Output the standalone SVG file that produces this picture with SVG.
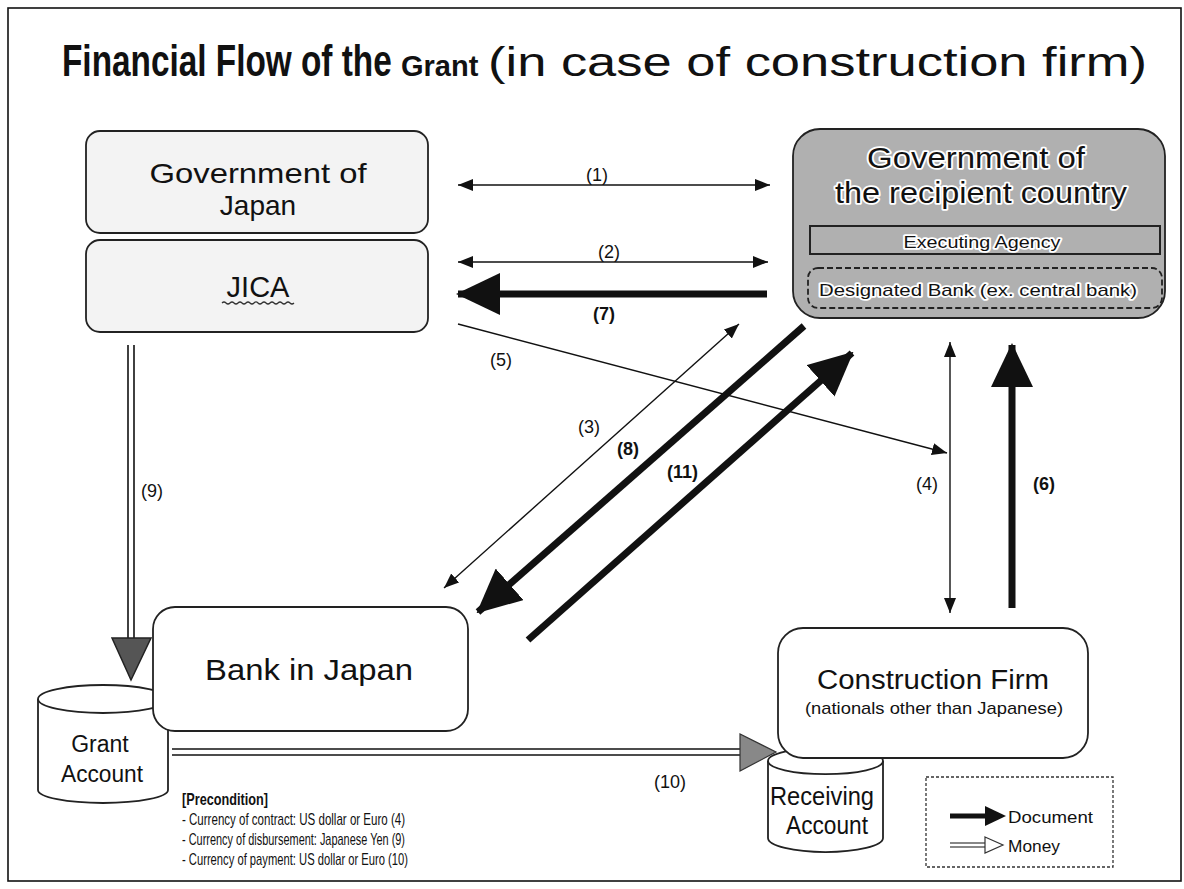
<svg xmlns="http://www.w3.org/2000/svg" width="1184" height="889" viewBox="0 0 1184 889">
<style>
  .sans { font-family: "Liberation Sans", Arial, sans-serif; fill: #111; }
  .box { stroke: #222; stroke-width: 1.8; }
  .thin { stroke: #111; stroke-width: 1.4; fill: none; }
  .thick { stroke: #111; stroke-width: 7; fill: none; }
  .lbl { font-family: "Liberation Sans", Arial, sans-serif; font-size: 18px; fill: #111; }
  .b { font-weight: bold; }
  .halo { paint-order: stroke; stroke: #fff; stroke-width: 3.5; stroke-linejoin: round; }
</style>
<defs>
  <marker id="ah" markerUnits="userSpaceOnUse" markerWidth="15" markerHeight="12" refX="15" refY="6" orient="auto-start-reverse">
    <path d="M0,0 L15,6 L0,12 Z" fill="#111"/>
  </marker>
  <marker id="bh" markerUnits="userSpaceOnUse" markerWidth="44" markerHeight="42" refX="42" refY="21" orient="auto">
    <path d="M0,0 L44,21 L0,42 Z" fill="#111"/>
  </marker>
</defs>

<rect x="8" y="8" width="1173" height="873" fill="none" stroke="#111" stroke-width="1.6"/>

<g id="title">
  <text class="sans b" transform="translate(62,76) scale(0.758,1)" x="0" y="0" font-size="44">Financial Flow of the</text>
  <text class="sans b" x="401" y="76" font-size="29">Grant</text>
  <text class="sans" x="488" y="76" font-size="40" textLength="659" lengthAdjust="spacingAndGlyphs">(in case of construction firm)</text>
</g>

<g id="gov-japan">
  <rect class="box" x="86" y="131" width="342" height="102" rx="14" fill="#f3f3f3"/>
  <text class="sans" x="258" y="183" font-size="28" text-anchor="middle" textLength="217" lengthAdjust="spacingAndGlyphs">Government of</text>
  <text class="sans" x="258" y="215" font-size="28" text-anchor="middle">Japan</text>
</g>

<g id="jica">
  <rect class="box" x="86" y="240" width="342" height="92" rx="14" fill="#f3f3f3"/>
  <text class="sans" x="258" y="297" font-size="29" text-anchor="middle">JICA</text>
  <path d="M222,303 q2,-2 4,0 t4,0 t4,0 t4,0 t4,0 t4,0 t4,0 t4,0 t4,0 t4,0 t4,0 t4,0 t4,0 t4,0 t4,0 t4,0 t4,0 t4,0" fill="none" stroke="#333" stroke-width="1.2"/>
</g>

<g id="gov-recipient">
  <rect class="box" x="793" y="129" width="372" height="189" rx="27" fill="#b0b0b0" stroke-width="2"/>
  <text class="sans halo" x="976" y="168" font-size="29" text-anchor="middle" textLength="218" lengthAdjust="spacingAndGlyphs">Government of</text>
  <text class="sans halo" x="981" y="203" font-size="29" text-anchor="middle" textLength="292" lengthAdjust="spacingAndGlyphs">the recipient country</text>
  <g id="executing-agency">
    <rect x="810" y="226" width="350" height="28" fill="none" stroke="#222" stroke-width="2"/>
    <text class="sans halo" x="982" y="248" font-size="17" text-anchor="middle" textLength="157" lengthAdjust="spacingAndGlyphs">Executing Agency</text>
  </g>
  <g id="designated-bank">
    <rect x="808" y="268" width="354" height="40" rx="10" fill="none" stroke="#222" stroke-width="1.8" stroke-dasharray="6,3"/>
    <text class="sans halo" x="978" y="296" font-size="17" text-anchor="middle" textLength="318" lengthAdjust="spacingAndGlyphs">Designated Bank (ex. central bank)</text>
  </g>
</g>

<g id="grant-account">
  <path d="M38,699 A65,14 0 0,1 168,699 L168,790 A65,13 0 0,1 38,790 Z" fill="#fff" stroke="#222" stroke-width="1.8"/>
  <path d="M38,699 A65,14 0 0,0 168,699" fill="none" stroke="#222" stroke-width="1.8"/>
  <text class="sans" x="100" y="752" font-size="23" text-anchor="middle">Grant</text>
  <text class="sans" x="102" y="782" font-size="23" text-anchor="middle" textLength="82" lengthAdjust="spacingAndGlyphs">Account</text>
</g>

<g id="bank-japan">
  <rect class="box" x="153" y="607" width="315" height="124" rx="22" fill="#fff"/>
  <text class="sans" x="309" y="680" font-size="29" text-anchor="middle" textLength="208" lengthAdjust="spacingAndGlyphs">Bank in Japan</text>
</g>

<g id="receiving-account">
  <path d="M768,761 A57,13 0 0,1 883,761 L883,838 A57,14 0 0,1 768,838 Z" fill="#fff" stroke="#222" stroke-width="1.8"/>
  <path d="M768,761 A57,13 0 0,0 883,761" fill="none" stroke="#222" stroke-width="1.8"/>
  <text class="sans" x="822" y="805" font-size="25" text-anchor="middle" textLength="104" lengthAdjust="spacingAndGlyphs">Receiving</text>
  <text class="sans" x="827" y="834" font-size="25" text-anchor="middle" textLength="82" lengthAdjust="spacingAndGlyphs">Account</text>
</g>

<g id="construction-firm">
  <rect class="box" x="778" y="628" width="310" height="130" rx="25" fill="#fff"/>
  <text class="sans" x="933" y="689" font-size="27" text-anchor="middle" textLength="232" lengthAdjust="spacingAndGlyphs">Construction  Firm</text>
  <text class="sans" x="934" y="714" font-size="17" text-anchor="middle" textLength="258" lengthAdjust="spacingAndGlyphs">(nationals other than Japanese)</text>
</g>

<g id="connectors">
  <line class="thin" x1="458" y1="185" x2="770" y2="185" marker-start="url(#ah)" marker-end="url(#ah)"/>
  <line class="thin" x1="458" y1="262" x2="768" y2="262" marker-start="url(#ah)" marker-end="url(#ah)"/>
  <line class="thick" x1="767" y1="294" x2="458" y2="294" marker-end="url(#bh)"/>
  <line class="thin" x1="458" y1="324" x2="947" y2="453" marker-end="url(#ah)"/>
  <line class="thin" x1="739" y1="324" x2="444" y2="588" marker-start="url(#ah)" marker-end="url(#ah)"/>
  <line class="thick" x1="804" y1="326" x2="478" y2="612" marker-end="url(#bh)"/>
  <line class="thick" x1="528" y1="640" x2="852" y2="353" marker-end="url(#bh)"/>
  <line class="thin" x1="950" y1="342" x2="950" y2="613" marker-start="url(#ah)" marker-end="url(#ah)"/>
  <line class="thick" x1="1012" y1="608" x2="1012" y2="345" stroke-width="8" marker-end="url(#bh)"/>
  <g id="money-9">
    <line x1="128" y1="345" x2="128" y2="640" stroke="#111" stroke-width="1.6"/>
    <line x1="134" y1="345" x2="134" y2="640" stroke="#111" stroke-width="1.6"/>
    <polygon points="112,638 151,638 131,680" fill="#555" stroke="#222" stroke-width="1.5"/>
  </g>
  <g id="money-10">
    <line x1="172" y1="749" x2="742" y2="749" stroke="#111" stroke-width="1.6"/>
    <line x1="172" y1="755" x2="742" y2="755" stroke="#111" stroke-width="1.6"/>
    <polygon points="740,734 740,771 776,752" fill="#888" stroke="#333" stroke-width="1.2"/>
  </g>
  <text class="lbl" x="586" y="181">(1)</text>
  <text class="lbl" x="598" y="258">(2)</text>
  <text class="lbl b" x="593" y="320">(7)</text>
  <text class="lbl" x="490" y="366">(5)</text>
  <text class="lbl" x="578" y="433">(3)</text>
  <text class="lbl b" x="617" y="455">(8)</text>
  <text class="lbl b" x="667" y="478">(11)</text>
  <text class="lbl" x="916" y="490" font-family="Liberation Serif, serif" font-size="20">(4)</text>
  <text class="lbl b" x="1033" y="490">(6)</text>
  <text class="lbl" x="141" y="497">(9)</text>
  <text class="lbl" x="654" y="788">(10)</text>
</g>

<g id="precondition">
  <text class="sans b" x="182" y="805" font-size="16.5" textLength="86" lengthAdjust="spacingAndGlyphs">[Precondition]</text>
  <text class="sans" x="182" y="825" font-size="17" textLength="223" lengthAdjust="spacingAndGlyphs">- Currency of contract: US dollar or Euro (4)</text>
  <text class="sans" x="182" y="845" font-size="17" textLength="223" lengthAdjust="spacingAndGlyphs">- Currency of disbursement: Japanese Yen (9)</text>
  <text class="sans" x="182" y="865" font-size="17" textLength="226" lengthAdjust="spacingAndGlyphs">- Currency of payment: US dollar or Euro (10)</text>
</g>

<g id="legend">
  <rect x="926" y="777" width="187" height="90" fill="none" stroke="#333" stroke-width="1.3" stroke-dasharray="3,2"/>
  <line x1="950" y1="816" x2="988" y2="816" stroke="#111" stroke-width="5"/>
  <polygon points="985,806 1006,816 985,826" fill="#111"/>
  <text class="sans" x="1008" y="823" font-size="17" textLength="85" lengthAdjust="spacingAndGlyphs">Document</text>
  <line x1="950" y1="843" x2="986" y2="843" stroke="#111" stroke-width="1.2"/>
  <line x1="950" y1="847" x2="986" y2="847" stroke="#111" stroke-width="1.2"/>
  <polygon points="985,837 1003,845 985,853" fill="#fff" stroke="#333" stroke-width="1.2"/>
  <text class="sans" x="1008" y="852" font-size="17" textLength="52" lengthAdjust="spacingAndGlyphs">Money</text>
</g>
</svg>
